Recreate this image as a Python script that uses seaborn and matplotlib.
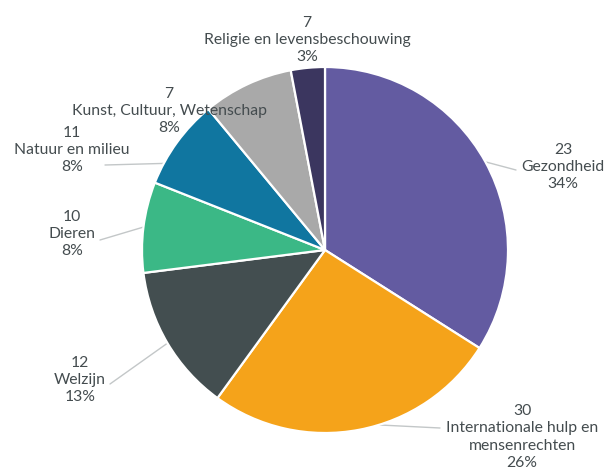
import numpy as np
import matplotlib
matplotlib.use("Agg")
import matplotlib.pyplot as plt
import seaborn as sns

categories = ["Gezondheid", "Internationale hulp en\nmensenrechten", "Welzijn", "Dieren",
              "Natuur en milieu", "Kunst, Cultuur, Wetenschap", "Religie en levensbeschouwing"]
counts = [23, 30, 12, 10, 11, 7, 7]
percentages = [34, 26, 13, 8, 8, 8, 3]
colors = ["#635ba1", "#f5a31a", "#434e50", "#3bb886", "#1076a0", "#a9a9a9", "#3b365f"]

sns.set_theme(style="white")
plt.rcParams["font.family"] = ["Lato", "DejaVu Sans"]

W, H = 608, 474
cx, cy, R = 325, 250, 183

fig = plt.figure(figsize=(W / 100, H / 100), dpi=100)
ax = fig.add_axes([0, 0, 1, 1])

wedges, _ = ax.pie(percentages, colors=colors, startangle=90, counterclock=False,
                   radius=1, center=(0, 0), frame=True,
                   wedgeprops=dict(edgecolor="white", linewidth=1.6))
ax.set_xlim(-cx / R, (W - cx) / R)
ax.set_ylim(-(H - cy) / R, cy / R)
ax.set_aspect("auto")
ax.axis("off")


def px(x, y):
    return (x - cx) / R, -(y - cy) / R


# label centre (pixels) and leader line ends (pixels)
label_pos = [(563, 167), (522, 437), (80, 380), (72, 234), (72, 150), (169, 111), (307, 40)]
line_end = [(516, 170), (440, 428), (110, 384), (100, 240), (105, 165), None, None]
line_start = [None, (380, 425), None, None, (179, 163), None, None]

txt_color = "#444c4f"
for i, w in enumerate(wedges):
    text = f"{counts[i]}\n{categories[i]}\n{percentages[i]}%"
    x, y = px(*label_pos[i])
    ax.text(x, y, text, ha="center", va="center", fontsize=11.3, color=txt_color,
            linespacing=1.28)
    if line_end[i] is not None:
        if line_start[i] is not None:
            sx, sy = px(*line_start[i])
        else:
            mid = np.deg2rad((w.theta1 + w.theta2) / 2)
            sx, sy = np.cos(mid), np.sin(mid)
        ex, ey = px(*line_end[i])
        ax.plot([sx, ex], [sy, ey], color="#c3c7c8", linewidth=1, zorder=0.5)

fig.savefig("out.png", dpi=100, facecolor="white")
